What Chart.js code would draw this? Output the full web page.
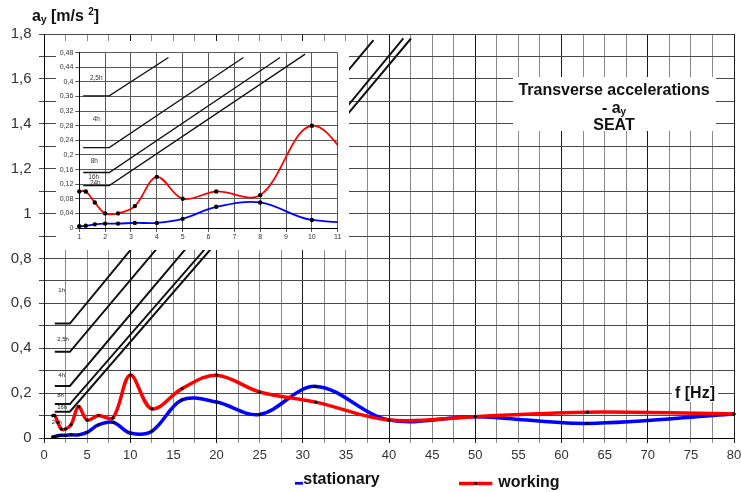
<!DOCTYPE html>
<html>
<head>
<meta charset="utf-8">
<script src="https://cdn.jsdelivr.net/npm/chart.js@4.4.1/dist/chart.umd.min.js"></script>
<style>
  html, body { margin: 0; padding: 0; background: #fff; }
  #wrap { position: relative; width: 741px; height: 492px; overflow: hidden; }
  #main { position: absolute; left: 0; top: 0; }
  #inset { position: absolute; left: 56px; top: 41px; background: #fff; }
</style>
</head>
<body>
<div id="wrap">
  <canvas id="main" width="741" height="492"></canvas>
  <canvas id="inset" width="293" height="209"></canvas>
</div>
<script>
// One-third-octave band centre frequencies, Hz
const freqs = [1, 1.25, 1.6, 2, 2.5, 3.15, 4, 5, 6.3, 8, 10, 12.5, 16, 20, 25, 31.5, 40, 50, 63, 80];

// Transverse RMS acceleration a_y on the seat, m/s²
const stationary = [0.005, 0.006, 0.01, 0.012, 0.012, 0.014, 0.014, 0.025, 0.058, 0.07, 0.022, 0.03, 0.17, 0.16, 0.105, 0.23, 0.08, 0.095, 0.065, 0.107];
const working    = [0.10, 0.10, 0.07, 0.04, 0.04, 0.06, 0.14, 0.08, 0.10, 0.09, 0.28, 0.13, 0.22, 0.28, 0.205, 0.16, 0.08, 0.095, 0.115, 0.107];

// Exposure-time limit curves, full range frame: [f Hz, a m/s²]
const limit1h   = [[1.25, 0.51],  [3, 0.51],  [13.5, 1.0]];
const limit2_5h = [[1.25, 0.384], [3, 0.384], [16.5, 1.0]];
const limit4h   = [[1.25, 0.232], [3, 0.232], [21.2, 1.06], [33, 1.533], [38.2, 1.773]];
const limit8h   = [[1.25, 0.151], [3, 0.151], [23.6, 1.06], [33, 1.376], [41.66, 1.78]];
const limit16h  = [[1.25, 0.117], [3, 0.117], [24.27, 1.06], [33, 1.342], [42.55, 1.78]];

// Exposure-time limit curves, 1–11 Hz detail frame
const detail2_5h = [[1.15, 0.362], [2.16, 0.362], [4.45, 0.467]];
const detail4h   = [[1.15, 0.22],  [2.16, 0.22],  [7.35, 0.467]];
const detail8h   = [[1.15, 0.152], [2.16, 0.152], [8.77, 0.467]];
const detail16h  = [[1.15, 0.116], [2.16, 0.116], [9.74, 0.476]];

// Curve names
const mainLimitNames   = ['1h', '2,5h', '4h', '8h', '16h', '24h'];
const detailLimitNames = ['2,5h', '4h', '8h', '16h', '24h'];

const FONT = '"Liberation Sans", Arial, Helvetica, sans-serif';
Chart.defaults.font.family = FONT;
Chart.defaults.color = '#333';

const pts = (xs, ys) => xs.map((x, i) => ({ x, y: ys[i] }));
const pairPts = pairs => pairs.map(([x, y]) => ({ x, y }));
const isMult = (v, m) => Math.abs(v / m - Math.round(v / m)) < 1e-6;
const comma = (v, d) => String(+v.toFixed(d)).replace('.', ',');

function curve(label, values, color, width, radius, order, clip) {
  return {
    label, data: pts(freqs, values), borderColor: color, backgroundColor: color,
    borderWidth: width, pointRadius: radius, pointBackgroundColor: '#000',
    pointBorderWidth: 0, pointHoverRadius: radius, tension: 0.35, order, clip, fill: false
  };
}
function limitLine(label, pairs, width) {
  return {
    label, data: pairPts(pairs), borderColor: '#111', borderWidth: width,
    pointRadius: 0, tension: 0, order: 5, fill: false, clip: 2
  };
}

// Draw a row of text runs (with sub/superscripts) starting at x on a baseline
function runsWidth(ctx, runs) {
  let w = 0;
  runs.forEach(r => { ctx.font = 'bold ' + r.size + 'px ' + FONT; w += ctx.measureText(r.t).width; });
  return w;
}
function drawRuns(ctx, runs, x, baseline) {
  ctx.textBaseline = 'alphabetic';
  ctx.textAlign = 'left';
  runs.forEach(r => {
    ctx.font = 'bold ' + r.size + 'px ' + FONT;
    ctx.fillText(r.t, x, baseline + (r.dy || 0));
    x += ctx.measureText(r.t).width;
  });
}

const mainDecor = {
  id: 'mainDecor',
  beforeDatasetsDraw(chart) {
    const { ctx, scales: { x, y } } = chart;
    // curve tags, anchored in data units
    const anchors = [[1.66, 0.656], [1.54, 0.441], [1.66, 0.281], [1.54, 0.188], [1.54, 0.135], [0.9, 0.068]];
    ctx.save();
    ctx.font = '6px ' + FONT;
    ctx.fillStyle = '#222';
    ctx.textBaseline = 'middle';
    ctx.textAlign = 'left';
    mainLimitNames.forEach((n, i) => ctx.fillText(n, x.getPixelForValue(anchors[i][0]), y.getPixelForValue(anchors[i][1])));
    ctx.restore();
  },
  afterDatasetsDraw(chart) {
    const { ctx } = chart;
    ctx.save();

    // chart title block
    ctx.fillStyle = '#fff';
    ctx.fillRect(513, 77, 203, 54);
    ctx.fillStyle = '#111';
    ctx.font = 'bold 16px ' + FONT;
    ctx.textAlign = 'center';
    ctx.textBaseline = 'alphabetic';
    ctx.fillText('Transverse accelerations', 614, 95);
    ctx.fillText('SEAT', 614, 130);
    const sub = [{ t: '- a', size: 16 }, { t: 'y', size: 10, dy: 2 }];
    drawRuns(ctx, sub, 614 - runsWidth(ctx, sub) / 2, 112.7);

    // frequency axis caption
    ctx.fillStyle = '#fff';
    ctx.fillRect(672, 385, 46, 17);
    ctx.fillStyle = '#111';
    drawRuns(ctx, [{ t: 'f [Hz]', size: 16 }], 675, 398.3);

    // acceleration axis caption
    drawRuns(ctx, [
      { t: 'a', size: 16 }, { t: 'y', size: 10, dy: 2.5 }, { t: ' [m/s ', size: 16 },
      { t: '2', size: 10, dy: -6 }, { t: ']', size: 16 }
    ], 32, 20.5);
    ctx.restore();
  },
  afterDraw(chart) {
    const { ctx } = chart;
    const ds = chart.data.datasets;
    ctx.save();
    // legend: stationary
    ctx.strokeStyle = ds[1].borderColor;
    ctx.lineWidth = 2.7;
    ctx.beginPath(); ctx.moveTo(295, 483.3); ctx.lineTo(303, 483.3); ctx.stroke();
    ctx.fillStyle = '#111';
    drawRuns(ctx, [{ t: 'stationary', size: 16 }], 303.3, 484.3);
    // legend: working
    ctx.strokeStyle = ds[0].borderColor;
    ctx.lineWidth = 3.7;
    ctx.beginPath(); ctx.moveTo(459, 483.5); ctx.lineTo(492.3, 483.5); ctx.stroke();
    ctx.fillStyle = '#000';
    ctx.beginPath(); ctx.arc(475.7, 483.5, 1.5, 0, Math.PI * 2); ctx.fill();
    ctx.fillStyle = '#111';
    drawRuns(ctx, [{ t: 'working', size: 16 }], 498.3, 486.5);
    ctx.restore();
  }
};

new Chart(document.getElementById('main'), {
  type: 'line',
  data: {
    datasets: [
      curve('working', working, '#ff0000', 3.5, 1.6, 0, 5),
      curve('stationary', stationary, '#0000ff', 3.5, 1.6, 1, 5),
      limitLine('1h', limit1h, 2),
      limitLine('2,5h', limit2_5h, 2),
      limitLine('4h', limit4h, 2),
      limitLine('8h', limit8h, 2),
      limitLine('16h', limit16h, 2)
    ]
  },
  options: {
    responsive: false, animation: false, devicePixelRatio: 1,
    layout: { padding: { top: 34, right: 7, left: 0, bottom: 0 } },
    plugins: { legend: { display: false }, tooltip: { enabled: false }, title: { display: false } },
    scales: {
      x: {
        type: 'linear', min: 0, max: 80,
        afterFit: s => { s.height = 54; s.paddingLeft = 0; s.paddingRight = 0; },
        ticks: {
          stepSize: 2.5, autoSkip: false, maxRotation: 0, minRotation: 0, padding: 5,
          font: { size: 13 }, color: '#333',
          callback: v => isMult(v, 5) ? String(Math.round(v)) : ''
        },
        grid: { color: c => (c.tick && isMult(c.tick.value, 10)) ? '#1a1a1a' : '#8a8a8a', tickLength: 5 },
        border: { color: '#000', width: 1 }
      },
      y: {
        min: 0, max: 1.8,
        afterFit: s => { s.width = 44; s.paddingTop = 0; s.paddingBottom = 0; },
        ticks: {
          stepSize: 0.1, padding: 7.5, font: { size: 15 }, color: '#333',
          callback: v => isMult(v, 0.2) ? comma(v, 1) : ''
        },
        grid: { color: '#4a4a4a', tickLength: 5 },
        border: { color: '#000', width: 1 }
      }
    }
  },
  plugins: [mainDecor]
});

const detailDecor = {
  id: 'detailDecor',
  beforeDatasetsDraw(chart) {
    const { ctx, scales: { x, y } } = chart;
    const anchors = [[1.41, 0.41], [1.52, 0.298], [1.44, 0.184], [1.35, 0.14], [1.41, 0.122]];
    ctx.save();
    ctx.font = '6.5px ' + FONT;
    ctx.fillStyle = '#333';
    ctx.textBaseline = 'middle';
    ctx.textAlign = 'left';
    detailLimitNames.forEach((n, i) => ctx.fillText(n, x.getPixelForValue(anchors[i][0]), y.getPixelForValue(anchors[i][1])));
    ctx.restore();
  }
};

new Chart(document.getElementById('inset'), {
  type: 'line',
  data: {
    datasets: [
      curve('working', working, '#ff0000', 1.8, 2.2, 0, { left: 4, top: 4, right: 0, bottom: 4 }),
      curve('stationary', stationary, '#0000ff', 1.8, 2.2, 1, { left: 4, top: 4, right: 0, bottom: 4 }),
      limitLine('2,5h', detail2_5h, 1.3),
      limitLine('4h', detail4h, 1.3),
      limitLine('8h', detail8h, 1.3),
      limitLine('16h', detail16h, 1.3)
    ]
  },
  options: {
    responsive: false, animation: false, devicePixelRatio: 1,
    layout: { padding: { top: 11.7, right: 11.3, left: 0, bottom: 0 } },
    plugins: { legend: { display: false }, tooltip: { enabled: false }, title: { display: false } },
    scales: {
      x: {
        type: 'linear', min: 1, max: 11,
        afterFit: s => { s.height = 22; s.paddingLeft = 0; s.paddingRight = 0; },
        ticks: { stepSize: 1, autoSkip: false, maxRotation: 0, padding: 1, font: { size: 7 }, color: '#333' },
        grid: { color: '#5a5a5a', tickLength: 4 },
        border: { color: '#000', width: 1 }
      },
      y: {
        min: 0, max: 0.48,
        afterFit: s => { s.width = 23.3; s.paddingTop = 0; s.paddingBottom = 0; },
        ticks: { stepSize: 0.04, padding: 2, font: { size: 7 }, color: '#333', callback: v => comma(v, 2) },
        grid: { color: '#5a5a5a', tickLength: 4 },
        border: { color: '#000', width: 1 }
      }
    }
  },
  plugins: [detailDecor]
});
</script>
</body>
</html>
